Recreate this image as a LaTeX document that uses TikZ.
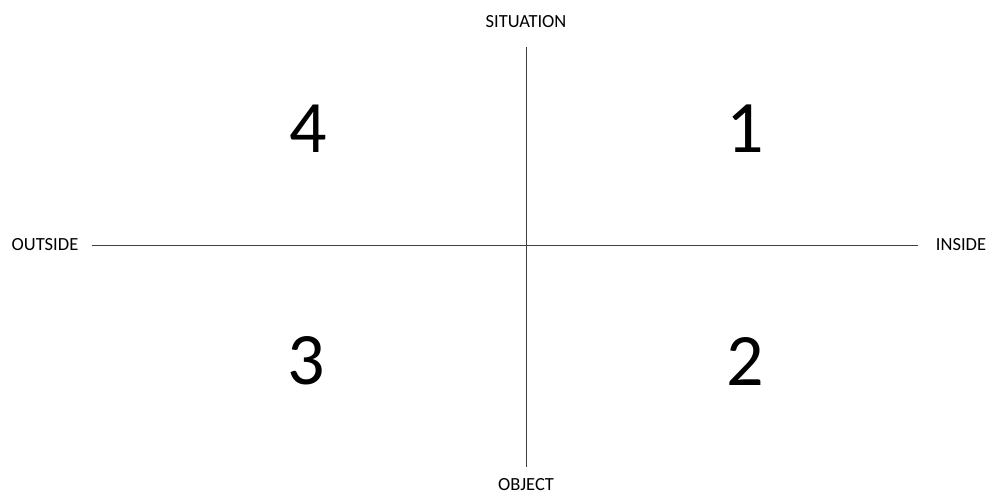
\documentclass[tikz,border=0pt]{standalone}
\usepackage{fontspec}
\setmainfont{Carlito}
\usepackage{tikz}
\usetikzlibrary{positioning}

\begin{document}
\begin{tikzpicture}[
      x=1pt, y=-1pt,
      axislabel/.style={font=\fontsize{18.5}{20}\selectfont, inner sep=0pt},
      quadnum/.style={font=\fontsize{74}{80}\selectfont, inner sep=0pt},
      axis/.style={draw=black!75, line width=0.8pt},
    ]
    \useasboundingbox (0,0) rectangle (989,494);

    % axis ends
    \coordinate (west) at (92,245);
    \coordinate (east) at (918,245);
    \coordinate (north) at (526,47);
    \coordinate (south) at (526,467);

    \draw[axis] (west) -- (east);
    \draw[axis] (north) -- (south);

    \node[axislabel] (outside) at (45,245) {OUTSIDE};
    \node[axislabel] (inside) at (961,245) {INSIDE};
    \node[axislabel] (situation) at (526,22) {SITUATION};
    \node[axislabel] (object) at (526,485) {OBJECT};

    % quadrants
    \node[quadnum] (q1) at (745,129) {1};
    \node[quadnum] (q2) at (745,361) {2};
    \node[quadnum] (q3) at (306,361) {3};
    \node[quadnum] (q4) at (308,129) {4};
  \end{tikzpicture}
\end{document}
